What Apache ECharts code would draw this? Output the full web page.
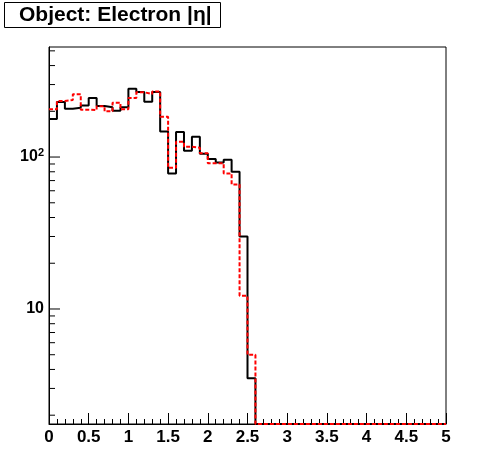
<!DOCTYPE html>
<html>
<head>
<meta charset="utf-8">
<script src="https://cdn.jsdelivr.net/npm/echarts@6/dist/echarts.min.js"></script>
<style>html,body{margin:0;padding:0;background:#fff}#c{width:496px;height:472px}</style>
</head>
<body>
<div id="c"></div>
<script>
// Bin low edges (|eta|), bin width 0.1, last edge 5
const binEdges = [0,0.1,0.2,0.3,0.4,0.5,0.6,0.7,0.8,0.9,1.0,1.1,1.2,1.3,1.4,1.5,1.6,1.7,1.8,1.9,
  2.0,2.1,2.2,2.3,2.4,2.5,2.6,2.7,2.8,2.9,3.0,3.1,3.2,3.3,3.4,3.5,3.6,3.7,3.8,3.9,
  4.0,4.1,4.2,4.3,4.4,4.5,4.6,4.7,4.8,4.9,5.0];
const blackCounts = [178,230,208,211,218,245,217,213,202,213,281,268,231,268,147,78,146,110,136,105,
  97,92,96,80,30,3.5,0,0,0,0,0,0,0,0,0,0,0,0,0,0,0,0,0,0,0,0,0,0,0,0];
const redCounts = [206,234,237,259,205,204,216,200,228,206,245,267,260,270,184,85,126,117,115,106,
  91,91,78,66,12.2,5.0,0,0,0,0,0,0,0,0,0,0,0,0,0,0,0,0,0,0,0,0,0,0,0,0];
const yMajorTicks = [10, 100];
const yMinorTicks = [2,3,4,5,6,7,8,9,20,30,40,50,60,70,80,90,200,300,400,500];
const titleText = 'Object: Electron |η|';

const yMin = 1.75, yMax = 530;
function stepData(counts) {
  const d = [];
  for (let i = 0; i < counts.length; i++) d.push([binEdges[i], Math.max(counts[i], yMin)]);
  d.push([binEdges[counts.length], Math.max(counts[counts.length - 1], yMin)]);
  return d;
}
const tickData = yMajorTicks.map(v => [0, v, 1]).concat(yMinorTicks.map(v => [0, v, 0]));

const chart = echarts.init(document.getElementById('c'), null, {renderer: 'canvas'});
chart.setOption({
  backgroundColor: '#fff',
  animation: false,
  title: {
    text: titleText, left: 4, top: 2,
    borderColor: '#000', borderWidth: 1,
    padding: [2, 9, 2, 15],
    textStyle: {fontFamily: 'Liberation Sans', fontWeight: 'bold', fontSize: 21, color: '#000', lineHeight: 22}
  },
  grid: {left: 49, right: 50, top: 47, bottom: 48, show: true, borderColor: '#000', borderWidth: 1},
  xAxis: {
    type: 'value', min: 0, max: 5, interval: 0.5,
    axisLine: {lineStyle: {color: '#000', width: 1}},
    axisTick: {inside: true, length: 11, lineStyle: {color: '#000'}},
    minorTick: {show: true, splitNumber: 5, length: 5, lineStyle: {color: '#000'}},
    splitLine: {show: false},
    axisLabel: {color: '#000', fontFamily: 'Liberation Sans', fontWeight: 'bold', fontSize: 17, margin: 5,
      showMinLabel: true, showMaxLabel: true}
  },
  yAxis: {
    type: 'log', logBase: 10, min: yMin, max: yMax,
    axisLine: {lineStyle: {color: '#000', width: 1}},
    axisTick: {show: false},
    splitLine: {show: false},
    axisLabel: {
      color: '#000', fontFamily: 'Liberation Sans', fontWeight: 'bold', fontSize: 16, margin: 5,
      formatter: function (v) {
        if (Math.abs(v - 100) < 1e-6) return '{b|10}{s|2}';
        if (Math.abs(v - 10) < 1e-6) return '{b|10}';
        return '';
      },
      rich: {
        b: {fontFamily: 'Liberation Sans', fontWeight: 'bold', fontSize: 16, color: '#000'},
        s: {fontFamily: 'Liberation Sans', fontWeight: 'bold', fontSize: 11, color: '#000', padding: [0, 0, 9, 0]}
      }
    }
  },
  series: [
    {
      type: 'custom', silent: true, clip: false, z: 5,
      data: tickData,
      renderItem: function (params, api) {
        const p = api.coord([api.value(0), api.value(1)]);
        const len = api.value(2) ? 11 : 6;
        return {type: 'line', shape: {x1: p[0], y1: p[1], x2: p[0] + len, y2: p[1]},
          style: {stroke: '#000', lineWidth: 1}};
      }
    },
    {
      type: 'line', step: 'end', symbol: 'none', data: stepData(blackCounts),
      lineStyle: {color: '#000', width: 2}, z: 3
    },
    {
      type: 'line', step: 'end', symbol: 'none', data: stepData(redCounts),
      lineStyle: {color: '#ff0000', width: 2, type: [4, 2]}, z: 4
    }
  ]
});
</script>
</body>
</html>
